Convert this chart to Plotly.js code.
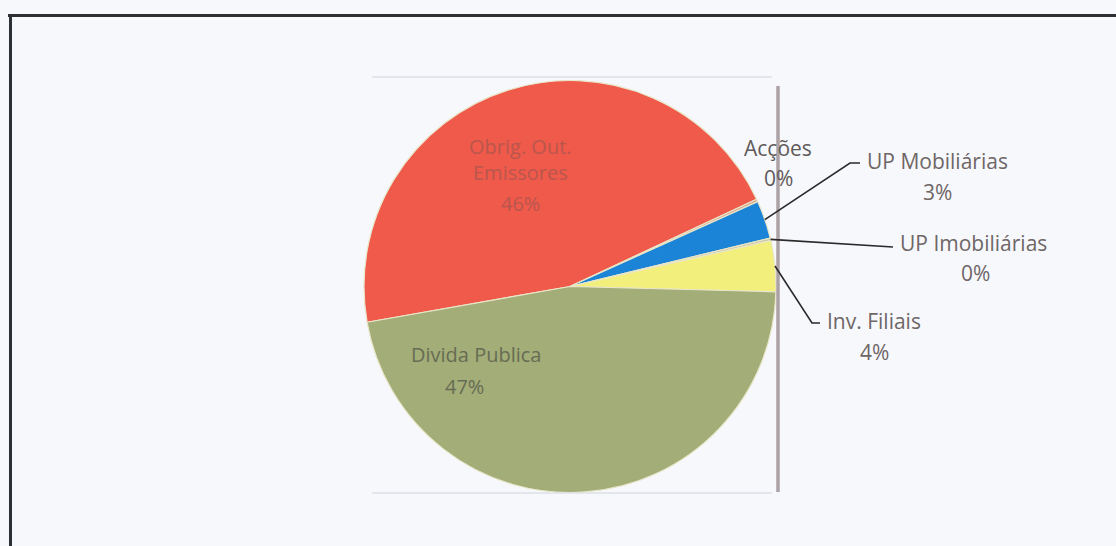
<!DOCTYPE html>
<html>
<head>
<meta charset="utf-8">
<script src="https://cdn.plot.ly/plotly-3.0.1.min.js"></script>
<style>
html,body{margin:0;padding:0;background:#f6f8fc;}
#chart{width:1116px;height:546px;}
</style>
</head>
<body>
<div id="chart"></div>
<script>
// ---- data ----
const categories = ["Obrig. Out. Emissores", "Acções", "UP Mobiliárias", "UP Imobiliárias", "Inv. Filiais", "Divida Publica"];
const values = [46, 0.2, 3, 0.2, 4, 47];
const percentLabels = ["46%", "0%", "3%", "0%", "4%", "47%"];
const sliceColors = ["#ef5a4b", "#d9a08a", "#1c84d6", "#c8c8a0", "#f2ef7c", "#a3ad77"];

// ---- geometry helpers (pixel -> paper) ----
const W = 1116, H = 546;
const cx = 570, cy = 286.5, R = 206;
const px = x => x / W;
const py = y => 1 - y / H;
const rotation = 260; // start of first slice, degrees clockwise from 12 o'clock

// slice mid-angle edge points computed from the data
const total = values.reduce((a, b) => a + b, 0);
let acc = 0;
const edge = values.map(v => {
  const mid = rotation + (acc + v / 2) / total * 360;
  acc += v;
  const rad = mid * Math.PI / 180;
  return [cx + R * Math.sin(rad), cy - R * Math.cos(rad)];
});

const trace = {
  type: "pie",
  labels: categories,
  values: values,
  sort: false,
  direction: "clockwise",
  rotation: rotation,
  textinfo: "none",
  hoverinfo: "label+percent",
  marker: { colors: sliceColors, line: { color: "#e9e6c9", width: 1.2 } },
  domain: { x: [px(cx - R), px(cx + R)], y: [py(cy + R), py(cy - R)] },
  showlegend: false
};

const txt = "#6f6666";
function label(text, x, y, color, size) {
  return { text: text, x: px(x), y: py(y), xref: "paper", yref: "paper",
    showarrow: false, xanchor: "center", yanchor: "middle",
    font: { family: "Open Sans, Noto Sans, sans-serif", size: size || 21, color: color || txt } };
}

const inRed = "#b9564d";
const inGreen = "#676c55";
const annotations = [
  label("Obrig. Out.", 520, 147, inRed, 20),
  label("Emissores", 520, 172, inRed, 20),
  label(percentLabels[0], 520, 203, inRed, 20),
  label("Acções", 778, 148, "#5f5a5a", 21),
  label(percentLabels[1], 778, 178, "#5f5a5a", 21),
  label("UP Mobiliárias", 937, 161),
  label(percentLabels[2], 937, 192),
  label("UP Imobiliárias", 973, 243),
  label(percentLabels[3], 975, 273),
  label("Inv. Filiais", 874, 321),
  label(percentLabels[4], 874, 352),
  label("Divida Publica", 476, 354, inGreen, 20),
  label(percentLabels[5], 464, 386, inGreen, 20)
];

function path(pts) {
  return "M" + pts.map(p => px(p[0]) + "," + py(p[1])).join(" L");
}
const leader = { color: "#2a2a2a", width: 1.6 };
const shapes = [
  // frame
  { type: "line", xref: "paper", yref: "paper", x0: px(8), x1: px(1116), y0: py(15.5), y1: py(15.5), line: { color: "#2d3135", width: 3 } },
  { type: "line", xref: "paper", yref: "paper", x0: px(10.5), x1: px(10.5), y0: py(14), y1: py(546), line: { color: "#2d3135", width: 3 } },
  // faint plot-area lines
  { type: "line", xref: "paper", yref: "paper", x0: px(372), x1: px(772), y0: py(77), y1: py(77), line: { color: "#dde0e6", width: 1.5 } },
  { type: "line", xref: "paper", yref: "paper", x0: px(372), x1: px(772), y0: py(493), y1: py(493), line: { color: "#dde0e6", width: 1.5 } },
  // gray vertical bar
  { type: "line", xref: "paper", yref: "paper", x0: px(778), x1: px(778), y0: py(86), y1: py(492), line: { color: "#aca2a6", width: 3.5 } },
  // leader lines (start at slice edge computed from data)
  { type: "path", xref: "paper", yref: "paper", path: path([edge[2], [850, 163], [860, 163]]), line: leader },
  { type: "path", xref: "paper", yref: "paper", path: path([edge[3], [893, 247]]), line: leader },
  { type: "path", xref: "paper", yref: "paper", path: path([edge[4], [812, 323], [820, 323]]), line: leader }
];

const layout = {
  width: W, height: H,
  margin: { l: 0, r: 0, t: 0, b: 0 },
  paper_bgcolor: "#f6f8fc",
  plot_bgcolor: "#f6f8fc",
  annotations: annotations,
  shapes: shapes
};

Plotly.newPlot("chart", [trace], layout, { displayModeBar: false, staticPlot: true });
</script>
</body>
</html>
